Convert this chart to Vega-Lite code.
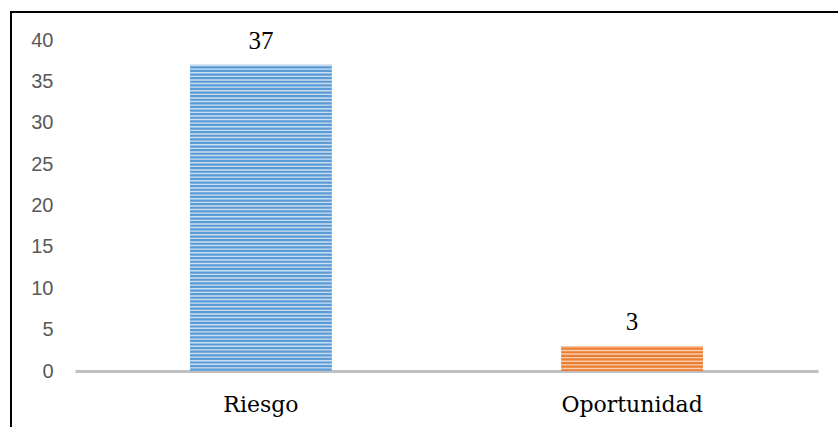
{
  "$schema": "https://vega.github.io/schema/vega-lite/v6.json",
  "autosize": {"type": "none"},
  "padding": {"left": 11, "top": 12, "right": 0, "bottom": 0},
  "width": 830,
  "height": 430,
  "background": "white",
  "data": {"values": [
    {"categoria": "Riesgo", "valor": 37},
    {"categoria": "Oportunidad", "valor": 3}
  ]},
  "layer": [
    {
      "mark": {"type": "bar"},
      "encoding": {
        "x": {
          "field": "categoria", "type": "nominal", "sort": ["Riesgo", "Oportunidad"],
          "scale": {"range": [64, 807], "paddingInner": 0.618, "paddingOuter": 0.31},
          "axis": {
            "title": null, "labels": false, "domain": true, "domainColor": "#BFBFBF", "domainWidth": 3,
            "ticks": false, "tickSize": 0, "offset": -71
          }
        },
        "y": {
          "field": "valor", "type": "quantitative",
          "scale": {"domain": [0, 40], "range": [359, 28], "nice": false},
          "axis": {
            "title": null, "values": [0, 5, 10, 15, 20, 25, 30, 35, 40], "domain": false, "ticks": false, "tickSize": 0,
            "grid": false, "offset": -46, "labelPadding": 4, "labelFont": "Liberation Sans", "labelFontSize": 20,
            "labelColor": "#595959", "labelBaseline": "middle"
          }
        },
        "fill": {"field": "categoria", "type": "nominal", "scale": {"domain": ["Riesgo", "Oportunidad"], "range": ["#5B9BD5", "#ED7D31"]}, "legend": null}
      }
    },
    {
      "mark": {"type": "rule", "strokeWidth": 142, "strokeCap": "butt", "strokeDash": [1.4, 2.2], "opacity": 0.9},
      "encoding": {
        "x": {"field": "categoria", "type": "nominal", "sort": ["Riesgo", "Oportunidad"]},
        "y": {"field": "valor", "type": "quantitative"},
        "y2": {"datum": 0},
        "stroke": {"field": "categoria", "type": "nominal", "scale": {"domain": ["Riesgo", "Oportunidad"], "range": ["#D6E6F5", "#FAD6BE"]}, "legend": null}
      }
    },
    {
      "mark": {"type": "text", "baseline": "alphabetic", "dy": -16, "font": "Liberation Serif", "fontSize": 25, "color": "#000000"},
      "encoding": {
        "x": {"field": "categoria", "type": "nominal", "sort": ["Riesgo", "Oportunidad"]},
        "y": {"field": "valor", "type": "quantitative"},
        "text": {"field": "valor", "type": "quantitative"}
      }
    },
    {
      "mark": {"type": "text", "baseline": "alphabetic", "dy": 41, "font": "DejaVu Serif", "fontSize": 22, "fill": "#000000"},
      "encoding": {
        "x": {"field": "categoria", "type": "nominal", "sort": ["Riesgo", "Oportunidad"]},
        "y": {"datum": 0},
        "text": {"field": "categoria", "type": "nominal"}
      }
    }
  ],
  "config": {
    "view": {"stroke": "#000000", "strokeWidth": 2}
  }
}
